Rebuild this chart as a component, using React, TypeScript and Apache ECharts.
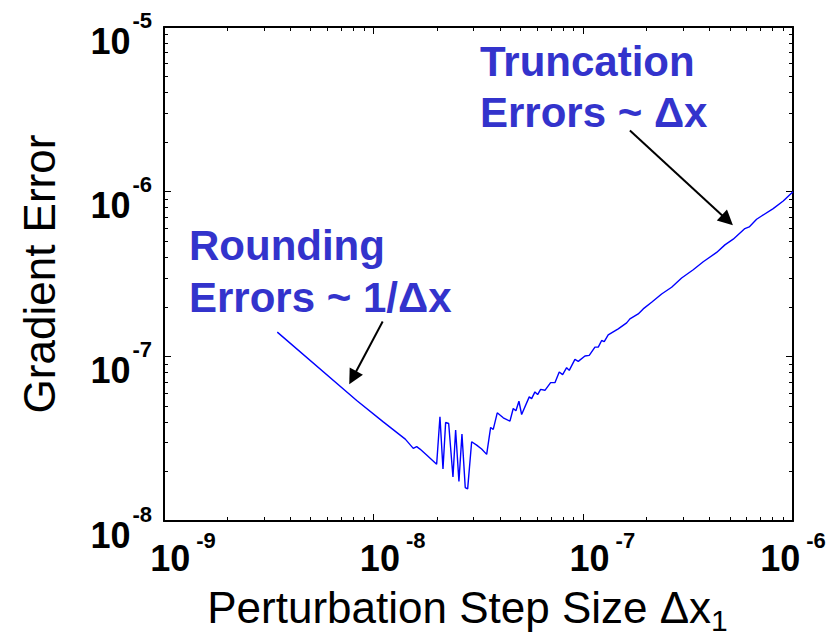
import React, { useEffect, useRef } from 'react';
import * as echarts from 'echarts';

// Finite-difference gradient error versus perturbation step size
const stepSize = [
  3.47e-9, 8.30e-9, 1.111e-8, 1.415e-8, 1.545e-8, 1.604e-8, 1.663e-8, 1.789e-8, 1.997e-8,
  2.071e-8, 2.141e-8, 2.204e-8, 2.279e-8, 2.389e-8, 2.460e-8, 2.551e-8, 2.637e-8, 2.734e-8, 2.807e-8,
  2.933e-8, 3.099e-8, 3.273e-8, 3.459e-8, 3.613e-8, 3.718e-8, 3.885e-8, 4.150e-8, 4.467e-8, 4.631e-8,
  4.770e-8, 4.930e-8, 5.079e-8, 5.521e-8, 5.668e-8, 5.877e-8, 6.054e-8, 6.257e-8, 6.560e-8, 6.983e-8,
  7.321e-8, 7.675e-8, 7.967e-8, 8.325e-8, 8.566e-8, 9.118e-8, 9.456e-8, 1.018e-7, 1.067e-7, 1.136e-7,
  1.178e-7, 1.223e-7, 1.258e-7, 1.314e-7, 1.467e-7, 1.609e-7, 1.668e-7, 1.827e-7, 1.930e-7, 2.117e-7,
  2.363e-7, 2.637e-7, 2.943e-7, 3.343e-7, 3.731e-7, 4.323e-7, 4.734e-7, 5.186e-7, 5.896e-7, 6.181e-7,
  6.705e-7, 7.082e-7, 8.046e-7, 8.982e-7, 1.0e-6,
];

const gradientError = [
  1.403e-7, 5.39e-8, 4.00e-8, 3.143e-8, 2.76e-8, 2.827e-8, 2.734e-8, 2.514e-8, 2.209e-8,
  4.294e-8, 2.069e-8, 3.966e-8, 3.911e-8, 1.851e-8, 3.562e-8, 1.736e-8, 3.369e-8, 1.597e-8, 1.566e-8,
  3.030e-8, 2.891e-8, 2.734e-8, 2.539e-8, 3.700e-8, 3.597e-8, 4.539e-8, 4.234e-8, 4.039e-8, 4.819e-8,
  4.667e-8, 5.336e-8, 4.434e-8, 5.673e-8, 5.540e-8, 6.081e-8, 5.857e-8, 6.306e-8, 6.219e-8, 6.922e-8,
  6.922e-8, 8.035e-8, 7.740e-8, 8.531e-8, 8.218e-8, 9.576e-8, 9.314e-8, 1.004e-7, 1.013e-7, 1.138e-7,
  1.138e-7, 1.248e-7, 1.230e-7, 1.351e-7, 1.469e-7, 1.597e-7, 1.688e-7, 1.810e-7, 1.941e-7, 2.131e-7,
  2.392e-7, 2.626e-7, 2.989e-7, 3.355e-7, 3.751e-7, 4.276e-7, 4.753e-7, 5.145e-7, 5.972e-7, 6.106e-7,
  6.799e-7, 7.118e-7, 7.890e-7, 8.772e-7, 1.0e-6,
];

// Axis decades (powers of ten shown as tick labels)
const xDecades = [-9, -8, -7, -6];
const yDecades = [-8, -7, -6, -5];

// Annotation arrows: [tail, head] in data coordinates
const truncationArrow = [
  [1.668e-7, 2.349e-6],
  [4.866e-7, 6.714e-7],
];
const roundingArrow = [
  [1.104e-8, 1.626e-7],
  [7.95e-9, 7.413e-8],
];

const truncationText = ['Truncation', 'Errors ~ \u0394x'];
const roundingText = ['Rounding', 'Errors ~ 1/\u0394x'];

const FONT = '"Liberation Sans", Arial, Helvetica, sans-serif';
const NOTE_COLOR = '#3333cc';

const pow10 = (e: number) => Math.pow(10, e);
const exponentOf = (v: number) => Math.round(Math.log10(v));

const tickStyle = {
  axisLine: { show: true, lineStyle: { color: '#000', width: 2 } },
  axisTick: { show: true, inside: true, length: 7, lineStyle: { color: '#000', width: 1 } },
  minorTick: { show: true, splitNumber: 9, length: 4, lineStyle: { color: '#000', width: 1 } },
  splitLine: { show: false },
  minorSplitLine: { show: false },
};

function buildOption() {
  const xMin = pow10(xDecades[0]);
  const xMax = pow10(xDecades[xDecades.length - 1]);
  const yMin = pow10(yDecades[0]);
  const yMax = pow10(yDecades[yDecades.length - 1]);

  const xRich = {
    sp: { width: 38, fontSize: 10, fontFamily: FONT },
    b: { fontSize: 36, fontWeight: 'bold', fontFamily: FONT, color: '#000', lineHeight: 36, padding: [11, 0, 0, 0], verticalAlign: 'top' },
    s: { fontSize: 22, fontWeight: 'bold', fontFamily: FONT, color: '#000', lineHeight: 22, padding: [0, 0, 0, 6], verticalAlign: 'top' },
  };
  const yRich = {
    b: { fontSize: 36, fontWeight: 'bold', fontFamily: FONT, color: '#000', lineHeight: 36, padding: [14, 0, 12, 0], verticalAlign: 'top' },
    s: { fontSize: 22, fontWeight: 'bold', fontFamily: FONT, color: '#000', lineHeight: 24, padding: [0, 0, 0, 2], verticalAlign: 'top' },
  };

  const lastX = xDecades[xDecades.length - 1];

  const noteStyle = (t: string) => ({
    text: t,
    font: `bold 42px ${FONT}`,
    fill: NOTE_COLOR,
    align: 'left',
    verticalAlign: 'middle',
    textAlign: 'left',
    textVerticalAlign: 'middle',
  });

  return {
    animation: false,
    backgroundColor: '#fff',
    grid: { left: 164, right: 37, top: 27, bottom: 117, containLabel: false },
    xAxis: [
      {
        type: 'log',
        logBase: 10,
        min: xMin,
        max: xMax,
        position: 'bottom',
        ...tickStyle,
        axisLabel: {
          show: true,
          margin: 8,
          rich: xRich,
          formatter: (v: number) => {
            const e = exponentOf(v);
            if (xDecades.indexOf(e) < 0) return '';
            return e === lastX ? `{b|10}{s|${e}}` : `{sp| }{b|10}{s|${e}}`;
          },
        },
        name: '{n|Perturbation Step Size \u0394x}{sub|1}',
        nameLocation: 'middle',
        nameGap: 64,
        nameTextStyle: {
          fontFamily: FONT,
          rich: {
            n: { fontSize: 44, fontFamily: FONT, color: '#000', lineHeight: 44, verticalAlign: 'top' },
            sub: { fontSize: 30, fontFamily: FONT, color: '#000', lineHeight: 30, padding: [20, 22, 0, 0], verticalAlign: 'top' },
          },
        },
      },
      {
        type: 'log',
        logBase: 10,
        min: xMin,
        max: xMax,
        position: 'top',
        ...tickStyle,
        axisLabel: { show: false },
      },
    ],
    yAxis: [
      {
        type: 'log',
        logBase: 10,
        min: yMin,
        max: yMax,
        position: 'left',
        ...tickStyle,
        axisLabel: {
          show: true,
          margin: 12,
          rich: yRich,
          formatter: (v: number) => {
            const e = exponentOf(v);
            if (yDecades.indexOf(e) < 0) return '';
            return `{b|10}{s|${e}}`;
          },
        },
        name: 'Gradient Error',
        nameLocation: 'middle',
        nameGap: 103,
        nameTextStyle: { fontFamily: FONT, fontSize: 44, color: '#000', lineHeight: 44 },
      },
      {
        type: 'log',
        logBase: 10,
        min: yMin,
        max: yMax,
        position: 'right',
        ...tickStyle,
        axisLabel: { show: false },
      },
    ],
    series: [
      {
        type: 'line',
        xAxisIndex: 0,
        yAxisIndex: 0,
        data: stepSize.map((x, i) => [x, gradientError[i]]),
        showSymbol: false,
        symbol: 'none',
        lineStyle: { color: '#0000ff', width: 1.4 },
        silent: true,
        markLine: {
          silent: true,
          symbol: ['none', 'triangle'],
          symbolSize: [15, 15],
          label: { show: false },
          lineStyle: { color: '#000', width: 2, type: 'solid' },
          emphasis: { disabled: true },
          data: [
            [{ coord: truncationArrow[0] }, { coord: truncationArrow[1] }],
            [{ coord: roundingArrow[0] }, { coord: roundingArrow[1] }],
          ],
        },
      },
    ],
    graphic: [
      ...truncationText.map((t, i) => ({
        type: 'text',
        x: 480,
        y: 61 + i * 51,
        silent: true,
        style: noteStyle(t),
      })),
      ...roundingText.map((t, i) => ({
        type: 'text',
        x: 189,
        y: 245 + i * 52,
        silent: true,
        style: noteStyle(t),
      })),
    ],
  };
}

export default function App() {
  const ref = useRef<HTMLDivElement>(null);

  useEffect(() => {
    if (!ref.current) return;
    const chart = echarts.init(ref.current, null, { renderer: 'svg' });
    chart.setOption(buildOption() as any);
    return () => chart.dispose();
  }, []);

  return (
    <div
      ref={ref}
      style={{ position: 'absolute', left: 0, top: 0, width: 830, height: 640, background: '#fff' }}
    />
  );
}
